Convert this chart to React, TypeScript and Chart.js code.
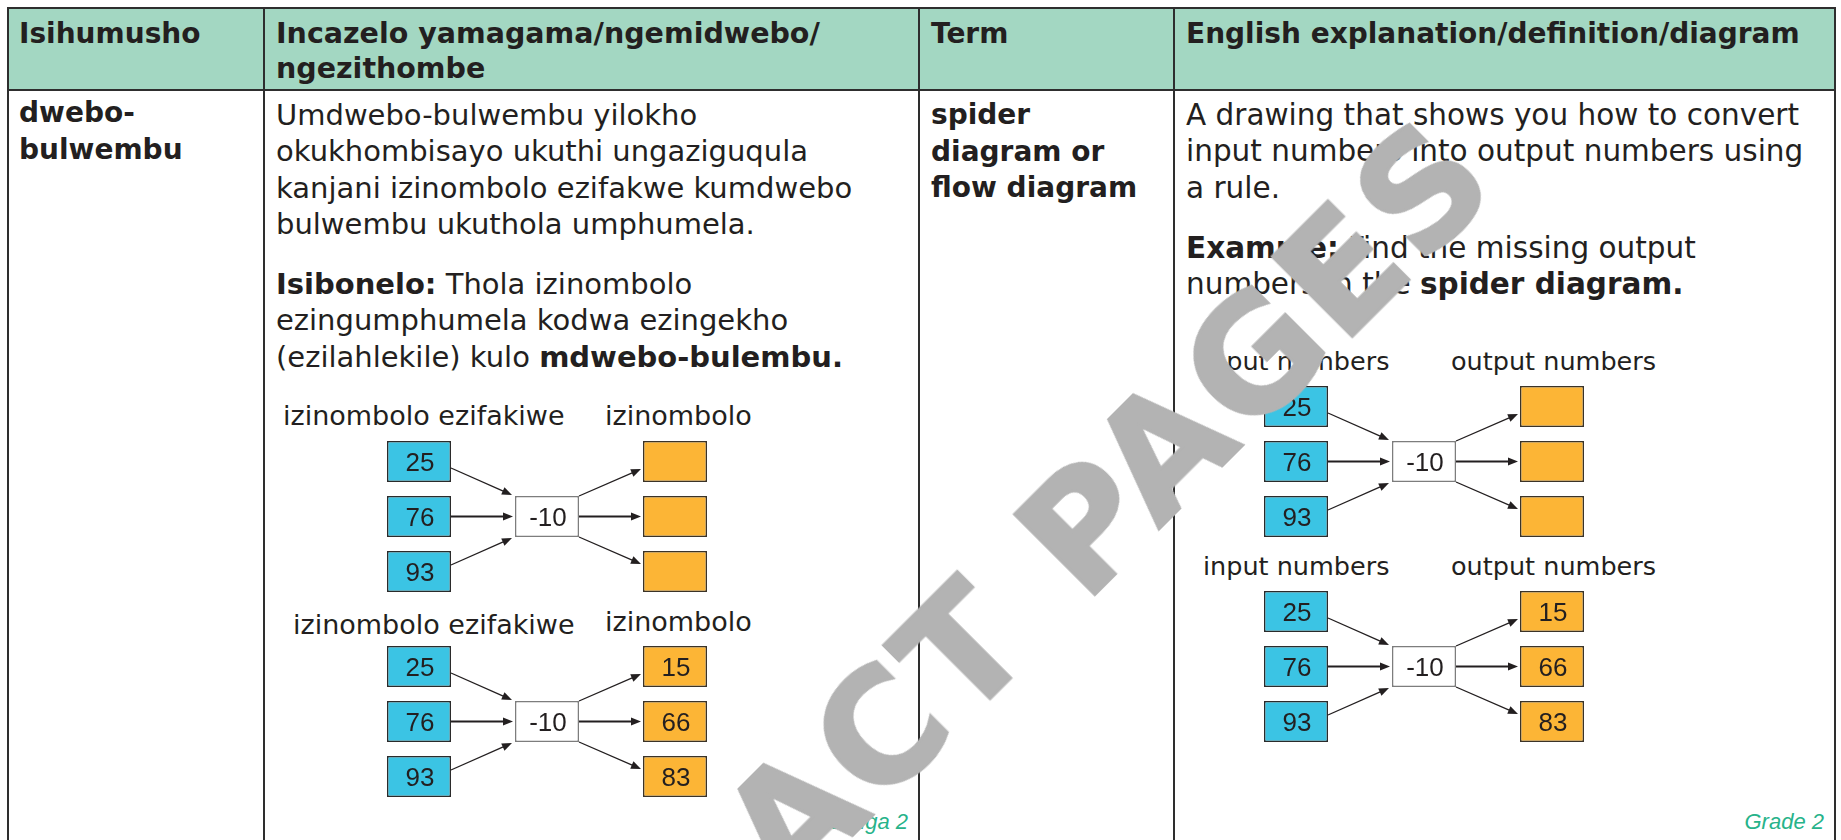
import React, { useEffect, useRef } from 'react';
import { Chart, registerables } from 'chart.js';

Chart.register(...registerables);

// ---------------- data ----------------
const ROW_KEYS = ['first', 'second', 'third'];
const INPUT_NUMBERS = [25, 76, 93];
const RULE_TEXT = '-10';
const OUTPUT_MISSING = ['', '', ''];
const OUTPUT_NUMBERS = [15, 66, 83];

const ZULU_INPUT_LABEL = 'izinombolo ezifakiwe';
const ZULU_OUTPUT_LABEL = 'izinombolo';
const EN_INPUT_LABEL = 'input numbers';
const EN_OUTPUT_LABEL = 'output numbers';

// ---------------- styles ----------------
const SANS = '"DejaVu Sans", sans-serif';
const ARIAL = '"Liberation Sans", Arial, sans-serif';
const INK = '#231f20';
const BLUE = '#3bc4e4';
const ORANGE = '#fcb536';
const MINT = '#a3d7c2';
const GREEN = '#27b38a';

const UNIT = 64; // px per box width
const PAD = 8;
const ROW_PITCH = 55;
const BOX_H = 41;

function drawArrow(ctx: CanvasRenderingContext2D, x1: number, y1: number, x2: number, y2: number, lw: number) {
  const ang = Math.atan2(y2 - y1, x2 - x1);
  const L = 10;
  const W = 4;
  const bx = x2 - L * Math.cos(ang);
  const by = y2 - L * Math.sin(ang);
  ctx.save();
  ctx.strokeStyle = INK;
  ctx.fillStyle = INK;
  ctx.lineWidth = lw;
  ctx.beginPath();
  ctx.moveTo(x1, y1);
  ctx.lineTo(bx + 1 * Math.cos(ang), by + 1 * Math.sin(ang));
  ctx.stroke();
  ctx.beginPath();
  ctx.moveTo(x2, y2);
  ctx.lineTo(bx - W * Math.sin(ang), by + W * Math.cos(ang));
  ctx.lineTo(bx + W * Math.sin(ang), by - W * Math.cos(ang));
  ctx.closePath();
  ctx.fill();
  ctx.restore();
}

function box(el: any) {
  const p = el.getProps(['x', 'y', 'base', 'height'], true);
  return {
    l: Math.min(p.x, p.base),
    r: Math.max(p.x, p.base),
    t: p.y - p.height / 2,
    b: p.y + p.height / 2,
    cx: (p.x + p.base) / 2,
    cy: p.y,
  };
}

const spiderPlugin = {
  id: 'spiderArrows',
  afterDatasetsDraw(chart: any) {
    const ctx: CanvasRenderingContext2D = chart.ctx;
    const inEls = chart.getDatasetMeta(0).data.map(box);
    const rule = box(chart.getDatasetMeta(1).data[1]);
    const outEls = chart.getDatasetMeta(2).data.map(box);

    // arrows into the rule box
    drawArrow(ctx, inEls[0].r, inEls[0].cy + 6.5, rule.l - 3, rule.t - 1, 1.3);
    drawArrow(ctx, inEls[1].r, inEls[1].cy, rule.l - 2, rule.cy, 2.2);
    drawArrow(ctx, inEls[2].r, inEls[2].cy - 6.5, rule.l - 3, rule.b + 1, 1.3);
    // arrows out of the rule box
    drawArrow(ctx, rule.r, rule.t, outEls[0].l - 2, outEls[0].cy + 7.5, 1.3);
    drawArrow(ctx, rule.r, rule.cy, outEls[1].l - 2, outEls[1].cy, 2.2);
    drawArrow(ctx, rule.r, rule.b, outEls[2].l - 2, outEls[2].cy - 7.5, 1.3);

    // values inside the boxes
    ctx.save();
    ctx.fillStyle = INK;
    ctx.font = '26px "Liberation Sans", Arial, sans-serif';
    ctx.textAlign = 'center';
    ctx.textBaseline = 'alphabetic';
    chart.data.datasets.forEach((ds: any, di: number) => {
      const meta = chart.getDatasetMeta(di);
      meta.data.forEach((el: any, i: number) => {
        const txt = ds.texts && ds.texts[i];
        if (!txt) return;
        const b = box(el);
        ctx.fillText(txt, b.cx + 1, b.cy + 9.5);
      });
    });
    ctx.restore();
  },
};

type SpiderProps = {
  left: number;
  top: number;
  inputs: number[];
  rule: string;
  outputs: (number | string)[];
};

function SpiderChart({ left, top, inputs, rule, outputs }: SpiderProps) {
  const ref = useRef<HTMLCanvasElement | null>(null);
  const w = 5 * UNIT + 2 * PAD;
  const h = 3 * ROW_PITCH;
  useEffect(() => {
    if (!ref.current) return;
    const padU = PAD / UNIT;
    const chart = new Chart(ref.current, {
      type: 'bar',
      data: {
        labels: ROW_KEYS,
        datasets: [
          {
            label: 'input',
            data: inputs.map(() => [0, 1]),
            texts: inputs.map(String),
            backgroundColor: BLUE,
            borderColor: '#2b2b2b',
            borderWidth: 1.5,
            borderSkipped: false,
          },
          {
            label: 'rule',
            data: ROW_KEYS.map((_, i) => (i === 1 ? [2, 3] : null)),
            texts: ROW_KEYS.map((_, i) => (i === 1 ? rule : '')),
            backgroundColor: '#ffffff',
            borderColor: '#7d7d7d',
            borderWidth: 1.5,
            borderSkipped: false,
          },
          {
            label: 'output',
            data: outputs.map(() => [4, 5]),
            texts: outputs.map(String),
            backgroundColor: ORANGE,
            borderColor: '#3a3328',
            borderWidth: 1.5,
            borderSkipped: false,
          },
        ] as any,
      },
      options: {
        indexAxis: 'y',
        responsive: false,
        animation: false,
        events: [],
        devicePixelRatio: 1,
        layout: { padding: 0 },
        datasets: {
          bar: { grouped: false, categoryPercentage: 1, barPercentage: BOX_H / ROW_PITCH },
        } as any,
        scales: {
          x: { type: 'linear', min: -padU, max: 5 + padU, display: false },
          y: { type: 'category', display: false },
        },
        plugins: { legend: { display: false }, tooltip: { enabled: false } },
      } as any,
      plugins: [spiderPlugin],
    });
    return () => chart.destroy();
  }, [inputs, rule, outputs]);
  return (
    <canvas
      ref={ref}
      width={w}
      height={h}
      style={{
        position: 'absolute',
        left: left - PAD,
        top: top - (ROW_PITCH - BOX_H) / 2,
        width: w,
        height: h,
      }}
    />
  );
}

function Txt({
  x,
  y,
  size,
  lh,
  family,
  weight,
  children,
  ls,
}: {
  x: number;
  y: number;
  size: number;
  lh: number;
  family: string;
  weight?: number;
  ls?: number;
  children: React.ReactNode;
}) {
  return (
    <div
      style={{
        position: 'absolute',
        left: x,
        top: y,
        fontFamily: family,
        fontSize: size,
        lineHeight: lh + 'px',
        fontWeight: weight || 400,
        color: INK,
        whiteSpace: 'nowrap',
        letterSpacing: ls || 0,
      }}
    >
      {children}
    </div>
  );
}

function Line({ x, y, w, h }: { x: number; y: number; w: number; h: number }) {
  return <div style={{ position: 'absolute', left: x, top: y, width: w, height: h, background: '#2e2e2e' }} />;
}

export default function App() {
  const cols = [7, 263, 918, 1173, 1834];
  return (
    <div
      style={{
        position: 'absolute',
        left: 0,
        top: 0,
        width: 1841,
        height: 840,
        overflow: 'hidden',
        background: '#ffffff',
      }}
    >
      {/* header background */}
      <div style={{ position: 'absolute', left: 8, top: 8, width: 1827, height: 82, background: MINT }} />
      {/* table lines */}
      <Line x={7} y={7} w={1829} h={2} />
      <Line x={7} y={89} w={1829} h={2} />
      {cols.map((c) => (
        <Line key={c} x={c} y={7} w={2} h={840} />
      ))}

      {/* header texts */}
      <Txt x={19} y={15.8} size={28} lh={35} family={SANS} weight={700}>
        Isihumusho
      </Txt>
      <Txt x={276} y={15.6} size={28.5} lh={35} family={SANS} weight={700}>
        Incazelo yamagama/ngemidwebo/
        <br />
        ngezithombe
      </Txt>
      <Txt x={931} y={15.8} size={28} lh={35} family={SANS} weight={700}>
        Term
      </Txt>
      <Txt x={1186} y={15.8} size={28} lh={35} family={SANS} weight={700}>
        English explanation/definition/diagram
      </Txt>

      {/* body column 1 */}
      <Txt x={19} y={93.6} size={28} lh={37.5} family={SANS} weight={700}>
        dwebo-
        <br />
        bulwembu
      </Txt>

      {/* body column 2 */}
      <Txt x={276} y={96.7} size={29} lh={36.5} family={SANS}>
        Umdwebo-bulwembu yilokho
        <br />
        okukhombisayo ukuthi ungaziguqula
        <br />
        kanjani izinombolo ezifakwe kumdwebo
        <br />
        bulwembu ukuthola umphumela.
      </Txt>
      <Txt x={276} y={265.7} size={29} lh={36.5} family={SANS}>
        <b>Isibonelo:</b> Thola izinombolo
        <br />
        ezingumphumela kodwa ezingekho
        <br />
        (ezilahlekile) kulo <b>mdwebo-bulembu.</b>
      </Txt>

      {/* body column 3 */}
      <Txt x={931} y={97} size={28} lh={36.5} family={SANS} weight={700}>
        spider
        <br />
        diagram or
        <br />
        flow diagram
      </Txt>

      {/* body column 4 */}
      <Txt x={1186} y={96.5} size={29.5} lh={36.5} family={SANS}>
        A drawing that shows you how to convert
        <br />
        input numbers into output numbers using
        <br />
        a rule.
      </Txt>
      <Txt x={1186} y={229.5} size={29.5} lh={36.5} family={SANS}>
        <b>Example:</b> Find the missing output
        <br />
        numbers in the <b>spider diagram.</b>
      </Txt>

      {/* diagram labels (left) */}
      <Txt x={283} y={400.6} size={27} lh={30} family={SANS}>
        {ZULU_INPUT_LABEL}
      </Txt>
      <Txt x={605} y={400.6} size={27} lh={30} family={SANS}>
        {ZULU_OUTPUT_LABEL}
      </Txt>
      <Txt x={293} y={609.6} size={27} lh={30} family={SANS}>
        {ZULU_INPUT_LABEL}
      </Txt>
      <Txt x={605} y={606.6} size={27} lh={30} family={SANS}>
        {ZULU_OUTPUT_LABEL}
      </Txt>

      {/* diagram labels (right) */}
      <Txt x={1203} y={346.2} size={25.5} lh={30} family={SANS}>
        {EN_INPUT_LABEL}
      </Txt>
      <Txt x={1451} y={346.2} size={25.5} lh={30} family={SANS}>
        {EN_OUTPUT_LABEL}
      </Txt>
      <Txt x={1203} y={551.2} size={25.5} lh={30} family={SANS}>
        {EN_INPUT_LABEL}
      </Txt>
      <Txt x={1451} y={551.2} size={25.5} lh={30} family={SANS}>
        {EN_OUTPUT_LABEL}
      </Txt>

      {/* spider diagrams drawn with Chart.js */}
      <SpiderChart left={387} top={441} inputs={INPUT_NUMBERS} rule={RULE_TEXT} outputs={OUTPUT_MISSING} />
      <SpiderChart left={387} top={646} inputs={INPUT_NUMBERS} rule={RULE_TEXT} outputs={OUTPUT_NUMBERS} />
      <SpiderChart left={1264} top={386} inputs={INPUT_NUMBERS} rule={RULE_TEXT} outputs={OUTPUT_MISSING} />
      <SpiderChart left={1264} top={591} inputs={INPUT_NUMBERS} rule={RULE_TEXT} outputs={OUTPUT_NUMBERS} />

      {/* footers */}
      <div
        style={{
          position: 'absolute',
          right: 1841 - 908,
          top: 810.4,
          fontFamily: ARIAL,
          fontStyle: 'italic',
          fontSize: 22,
          lineHeight: '24px',
          color: GREEN,
          whiteSpace: 'nowrap',
        }}
      >
        Ibanga 2
      </div>
      <div
        style={{
          position: 'absolute',
          right: 1841 - 1824,
          top: 810.4,
          fontFamily: ARIAL,
          fontStyle: 'italic',
          fontSize: 22,
          lineHeight: '24px',
          color: GREEN,
          whiteSpace: 'nowrap',
        }}
      >
        Grade 2
      </div>

      {/* watermark */}
      <div
        style={{
          position: 'absolute',
          left: 1108.6,
          top: 503.6,
          transform: 'translate(-50%, -50%) rotate(-45deg)',
          fontFamily: SANS,
          fontWeight: 700,
          fontSize: 155,
          lineHeight: 1,
          letterSpacing: 6,
          color: '#b3b3b3',
          WebkitTextStroke: '3px #b3b3b3',
          whiteSpace: 'nowrap',
        }}
      >
        ACT PAGES
      </div>
    </div>
  );
}
